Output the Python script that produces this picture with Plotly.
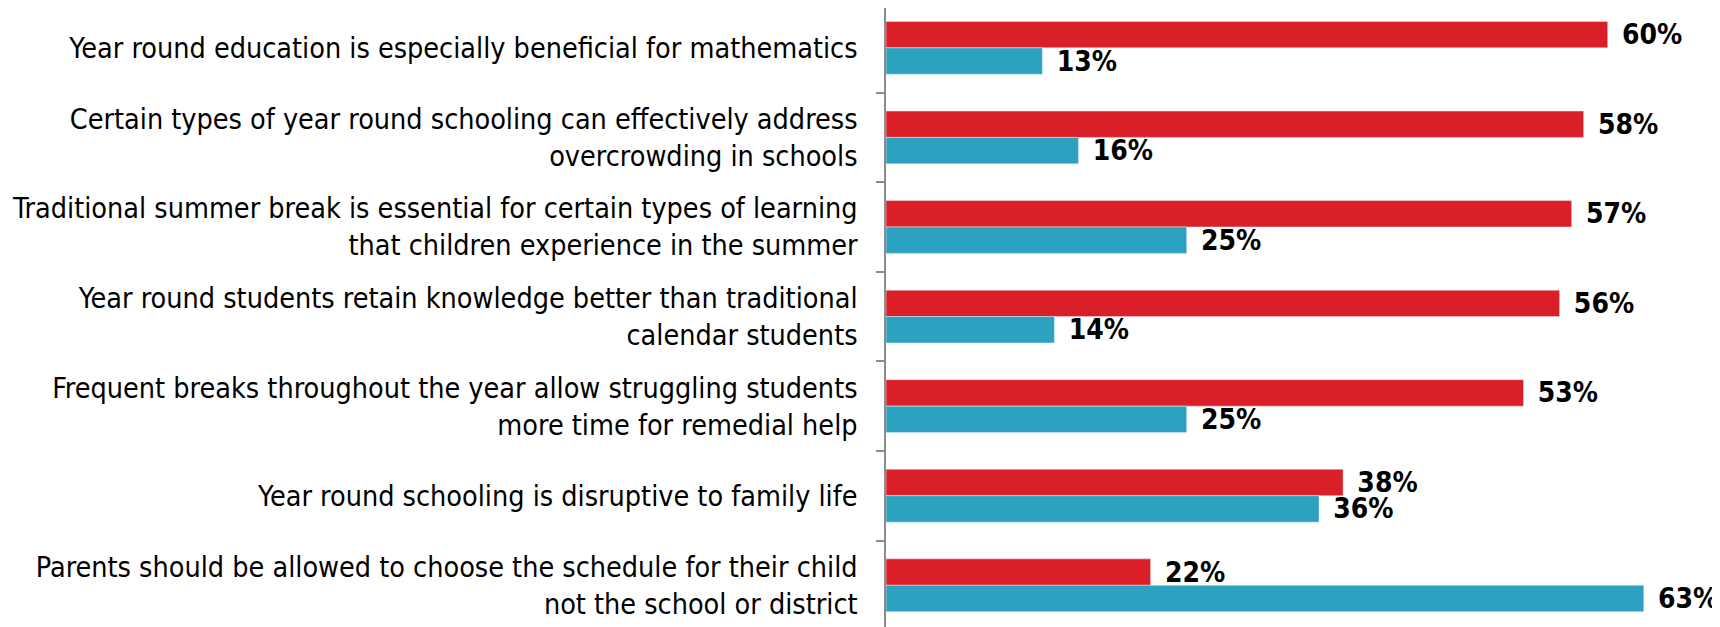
import plotly.graph_objects as go

categories = [
    "Year round education is especially beneficial for mathematics",
    "Certain types of year round schooling can effectively address<br>overcrowding in schools",
    "Traditional summer break is essential for certain types of learning<br>that children experience in the summer",
    "Year round students retain knowledge better than traditional<br>calendar students",
    "Frequent breaks throughout the year allow struggling students<br>more time for remedial help",
    "Year round schooling is disruptive to family life",
    "Parents should be allowed to choose the schedule for their child<br>not the school or district",
]
red_values = [60, 58, 57, 56, 53, 38, 22]
blue_values = [13, 16, 25, 14, 25, 36, 63]

RED = "#DA1F29"
BLUE = "#2CA2C0"
FONT = "DejaVu Sans Condensed, DejaVu Sans, sans-serif"

label_font = dict(family=FONT, size=28, color="black", weight="bold")

fig = go.Figure()
fig.add_trace(go.Bar(
    y=categories, x=red_values, orientation="h", marker_color=RED,
    text=red_values, texttemplate="\u00a0\u200a%{x}%", textposition="outside",
    textfont=label_font, constraintext="none", cliponaxis=False, showlegend=False,
))
fig.add_trace(go.Bar(
    y=categories, x=blue_values, orientation="h", marker_color=BLUE,
    text=blue_values, texttemplate="\u00a0\u200a%{x}%", textposition="outside",
    textfont=label_font, constraintext="none", cliponaxis=False, showlegend=False,
))

fig.update_layout(
    width=1720, height=627,
    margin=dict(l=878, r=0, t=0, b=0),
    barmode="group", bargap=0.41, bargroupgap=0,
    plot_bgcolor="white", paper_bgcolor="white",
    font=dict(family=FONT, size=28.5, color="black"),
)
fig.update_xaxes(range=[0, 70.0], visible=False, automargin=False)
fig.update_yaxes(
    automargin=False, autorange=False, range=[6.555, -0.445], type="category",
    showline=True, linecolor="#8c8c8c", linewidth=1.5,
    ticks="outside", tickson="boundaries", ticklen=8, tickcolor="#8c8c8c", tickwidth=1.5,
    ticklabelstandoff=21, showgrid=False,
    tickfont=dict(family=FONT, size=28.5, color="black"),
)

fig.write_html("out.html")
